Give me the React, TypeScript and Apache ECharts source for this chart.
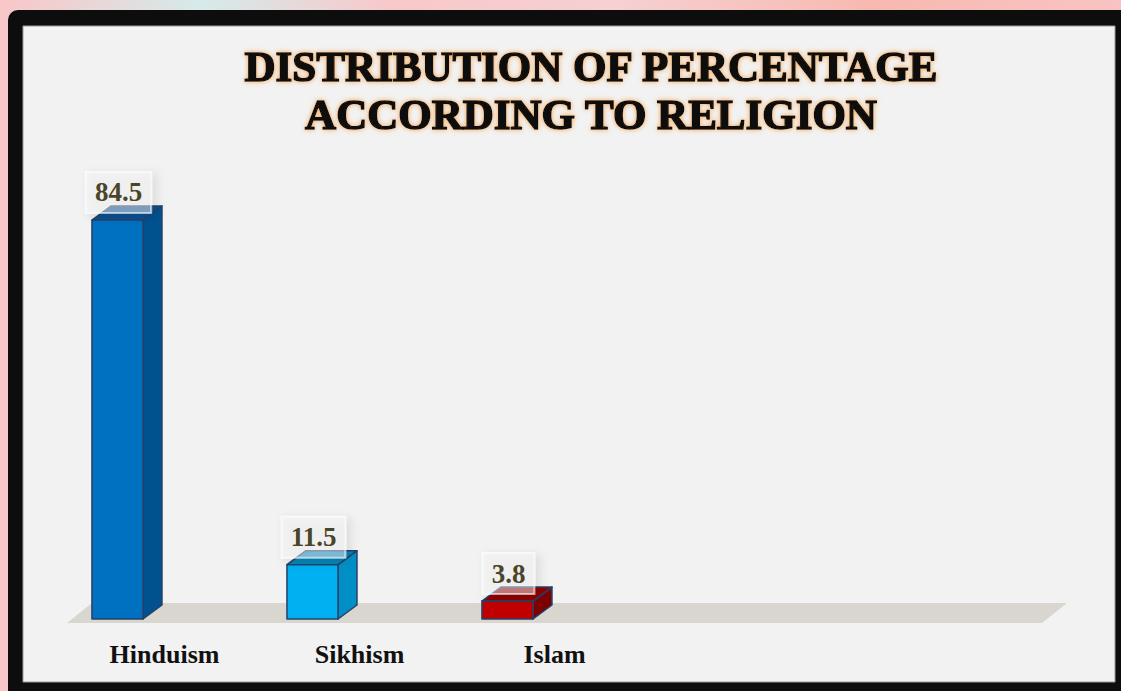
import React, { useEffect, useRef } from "react";
import * as echarts from "echarts";

const categories = ["Hinduism", "Sikhism", "Islam"];
const slots = [...categories, "", ""];
const values = [84.5, 11.5, 3.8];
const titleLines = ["DISTRIBUTION OF PERCENTAGE", "ACCORDING TO RELIGION"];
const barColors = [
  { front: "#0070c0", side: "#00528e", top: "#0b4f8f" },
  { front: "#00b0f0", side: "#0090c6", top: "#0684b6" },
  { front: "#c00000", side: "#7e0000", top: "#8f0000" },
];

export default function App() {
  const ref = useRef<HTMLDivElement>(null);
  useEffect(() => {
    document.body.style.margin = "0";
    const chart = echarts.init(ref.current!, null, { renderer: "svg" });
    const outline = "#23416a";
    chart.setOption({
      animation: false,
      backgroundColor: "transparent",
      title: {
        text: titleLines.join("\n"),
        left: 586,
        top: 37,
        textAlign: "center",
        textStyle: {
          fontFamily: "Liberation Serif",
          fontWeight: 900,
          fontSize: 43,
          lineHeight: 48,
          color: "#111111",
          textBorderColor: "#111111",
          textBorderWidth: 1.6,
          textShadowColor: "#f2a455",
          textShadowBlur: 5,
        },
      },
      graphic: [
        { type: "rect", z: -10, shape: { x: 8, y: 10, width: 1140, height: 700, r: 10 }, style: { fill: "#0d0d0d" } },
        { type: "rect", z: -9, shape: { x: 23, y: 26, width: 1092, height: 656 }, style: { fill: "#f2f2f2", stroke: "#9a9a9a", lineWidth: 1 } },
        { type: "polygon", z: -8, shape: { points: [[67, 623], [92, 603], [1067, 603], [1042, 623]] }, style: { fill: "#d9d6cf" } },
      ],
      grid: { left: 67, right: 79, top: 146.8, bottom: 72 },
      xAxis: {
        type: "category",
        data: slots,
        axisLine: { show: false },
        axisTick: { show: false },
        splitLine: { show: false },
        axisLabel: {
          interval: 0,
          margin: 22,
          fontFamily: "Liberation Serif",
          fontWeight: "bold",
          fontSize: 26,
          color: "#111111",
        },
      },
      yAxis: {
        type: "value",
        min: 0,
        max: 100,
        show: false,
        splitLine: { show: false },
      },
      series: [
        {
          type: "custom",
          z: 10,
          data: values.map((v, i) => [i, v]),
          encode: { x: 0, y: 1 },
          renderItem: (params: any, api: any) => {
            const idx = api.value(0);
            const v = api.value(1);
            const base = api.coord([idx, 0]);
            const top = api.coord([idx, v]);
            const bw = api.size([1, 0])[0];
            const x0 = base[0] - bw / 2 + bw * 0.128;
            const w = bw * 0.262;
            const dx = bw * 0.097;
            const dy = 14;
            const yb = base[1];
            const yt = top[1];
            const c = barColors[idx];
            const st = { stroke: outline, lineWidth: 1.5, lineJoin: "round" };
            return {
              type: "group",
              children: [
                {
                  type: "polygon",
                  shape: { points: [[x0 + w, yt], [x0 + w + dx, yt - dy], [x0 + w + dx, yb - dy], [x0 + w, yb]] },
                  style: { fill: c.side, ...st },
                },
                {
                  type: "polygon",
                  shape: { points: [[x0, yt], [x0 + dx, yt - dy], [x0 + w + dx, yt - dy], [x0 + w, yt]] },
                  style: { fill: c.top, ...st },
                },
                {
                  type: "rect",
                  shape: { x: x0, y: yt, width: w, height: yb - yt },
                  style: { fill: c.front, ...st },
                },
                {
                  type: "text",
                  x: x0 + w / 2 + 1,
                  y: yt - 7,
                  style: {
                    text: String(v),
                    font: "bold 27px 'Liberation Serif'",
                    fill: "#4a4428",
                    align: "center",
                    verticalAlign: "bottom",
                    lineHeight: 29,
                    padding: [6, 9, 6, 9],
                    backgroundColor: "rgba(248,248,248,0.45)",
                    borderColor: "rgba(255,255,255,0.6)",
                    borderWidth: 1,
                    shadowColor: "rgba(0,0,0,0.2)",
                    shadowBlur: 10,
                    shadowOffsetX: 4,
                    shadowOffsetY: 3,
                  },
                },
              ],
            };
          },
        },
      ],
    });
    return () => chart.dispose();
  }, []);
  return (
    <div
      style={{
        position: "fixed",
        left: 0,
        top: 0,
        width: 1121,
        height: 691,
        background:
          "linear-gradient(90deg, #f9c6c8 0%, #d6eaea 18%, #f8c8ca 35%, #f6d0d2 55%, #f7b9b0 78%, #f9c3c3 100%)",
      }}
    >
      <div ref={ref} style={{ width: 1121, height: 691 }} />
    </div>
  );
}
